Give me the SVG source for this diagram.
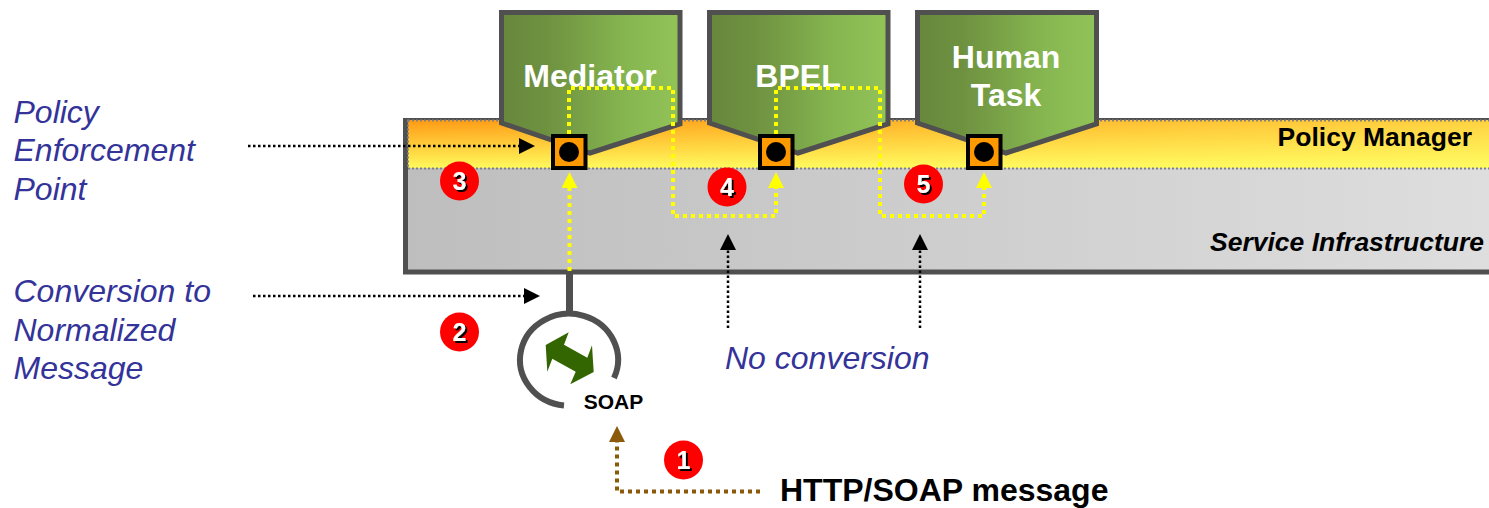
<svg xmlns="http://www.w3.org/2000/svg" width="1489" height="508" viewBox="0 0 1489 508">
<style>
text{font-family:"Liberation Sans",Arial,sans-serif}
.note{font-size:32px;font-style:italic;fill:#333399}
.svc{stroke:#505050;stroke-width:5;fill:url(#green);stroke-linejoin:miter}
.svcT{font-size:32px;font-weight:bold;fill:#fff;text-anchor:middle}
.pep{fill:#FF9900;stroke:#000;stroke-width:4}
.badge{fill:#ff0000}
.num{font-size:25px;font-weight:bold;fill:#fff;text-anchor:middle;filter:url(#sh)}
.y{fill:none;stroke:#FFFF00;stroke-width:4;stroke-dasharray:4 4;marker-end:url(#ay)}
.k{fill:none;stroke:#000;stroke-width:2.500;stroke-dasharray:2.500 2.500;marker-end:url(#ak)}
.b{fill:none;stroke:#8B5A0B;stroke-width:4;stroke-dasharray:4 4;marker-end:url(#ab)}
</style>
<defs>
<linearGradient id="green" x1="0" x2="1" y1="0" y2="0"><stop offset="0" stop-color="#68883C"/><stop offset="0.25" stop-color="#6E9140"/><stop offset="0.7" stop-color="#86B650"/><stop offset="1" stop-color="#92C358"/></linearGradient>
<linearGradient id="grey" gradientUnits="userSpaceOnUse" x1="408" x2="1489" y1="0" y2="0"><stop offset="0" stop-color="#BEBEBE"/><stop offset="1" stop-color="#DEDEDE"/></linearGradient>
<linearGradient id="org" x1="0" x2="0" y1="0" y2="1"><stop offset="0" stop-color="#FF9A14"/><stop offset="1" stop-color="#FFF95C"/></linearGradient>
<linearGradient id="orgR" gradientUnits="userSpaceOnUse" x1="408" x2="1489" y1="0" y2="0"><stop offset="0" stop-color="#FFFF66" stop-opacity="0"/><stop offset="1" stop-color="#FFFF66" stop-opacity="0.55"/></linearGradient>
<filter id="sh" x="-30%" y="-30%" width="170%" height="170%"><feDropShadow dx="2" dy="2" stdDeviation="0.3" flood-color="#000" flood-opacity="1"/></filter>
<marker id="ay" markerUnits="userSpaceOnUse" markerWidth="16" markerHeight="16" refX="1" refY="8" orient="auto"><path d="M0 0L16 8L0 16Z" fill="#FFFF00"/></marker>
<marker id="ak" markerUnits="userSpaceOnUse" markerWidth="16" markerHeight="16" refX="1" refY="8" orient="auto"><path d="M0 0L16 8L0 16Z" fill="#000"/></marker>
<marker id="ab" markerUnits="userSpaceOnUse" markerWidth="16" markerHeight="16" refX="1" refY="8" orient="auto"><path d="M0 0L16 8L0 16Z" fill="#8B5A0B"/></marker>
</defs>
<rect width="1489" height="508" fill="#fff"/>
<g id="service-infrastructure">
<rect x="405.500" y="120.500" width="1090" height="151.500" fill="url(#grey)" stroke="#505050" stroke-width="5"/>
<text x="1484" y="251" text-anchor="end" font-size="26.500" font-weight="bold" font-style="italic">Service Infrastructure</text>
</g>
<g id="policy-manager">
<rect x="408" y="120" width="1085" height="48" fill="url(#org)"/>
<rect x="408" y="120" width="1085" height="48" fill="url(#orgR)"/>
<rect x="408" y="120.500" width="1085" height="48" fill="none" stroke="#808080" stroke-width="2" stroke-dasharray="2 2"/>
<text x="1472" y="146" text-anchor="end" font-size="26.500" font-weight="bold">Policy Manager</text>
</g>
<g id="mediator">
<path class="svc" d="M501.500 12.500H680V124L590 153L501.500 123Z"/>
<text class="svcT" x="590" y="87">Mediator</text>
</g>
<g id="bpel">
<path class="svc" d="M709.500 12.500H888V124L798 153L709.500 123Z"/>
<text class="svcT" x="798" y="87">BPEL</text>
</g>
<g id="human-task">
<path class="svc" d="M917.500 12.500H1096.500V124L1006 153L917.500 123Z"/>
<text class="svcT" x="1006" y="68">Human</text>
<text class="svcT" x="1006" y="106">Task</text>
</g>
<g id="connectors">
<path class="y" d="M569.500 271V187"/>
<path class="y" d="M569 134V88H673V216H776V187"/>
<path class="y" d="M776 134V88H880V216H984V187"/>
<path class="k" d="M248 146H520"/>
<path class="k" d="M253 296H525"/>
<path class="k" d="M728 328V249"/>
<path class="k" d="M920 328V249"/>
<path class="b" d="M760 491.500H617V441"/>
</g>
<g id="pep-mediator"><rect class="pep" x="553" y="136" width="32.500" height="32"/><circle cx="569" cy="152" r="10"/></g>
<g id="pep-bpel"><rect class="pep" x="760" y="136" width="32.500" height="32"/><circle cx="776" cy="152" r="10"/></g>
<g id="pep-human"><rect class="pep" x="968" y="136" width="32.500" height="32"/><circle cx="984" cy="152" r="10"/></g>
<g id="soap-binding">
<path d="M569.500 274V312" stroke="#505050" stroke-width="7" fill="none"/>
<path d="M614 378A49 46 0 1 0 564 405.500" stroke="#505050" stroke-width="6" fill="none"/>
<path d="M545.700 345L568.700 332.300L564 344.700L587.300 357.700L592 345.300L593.700 372L570.300 384.300L575.700 371.700L552.300 358.700L547.300 371.700Z" fill="#336600"/>
<text x="613.500" y="409" text-anchor="middle" font-size="21" font-weight="bold">SOAP</text>
</g>
<g id="badge-1"><circle class="badge" cx="683.500" cy="460" r="19.500"/><text class="num" x="683.500" y="469">1</text></g>
<g id="badge-2"><circle class="badge" cx="459.500" cy="332" r="19.500"/><text class="num" x="459.500" y="341">2</text></g>
<g id="badge-3"><circle class="badge" cx="459.500" cy="181" r="19.500"/><text class="num" x="459.500" y="190">3</text></g>
<g id="badge-4"><circle class="badge" cx="727" cy="187" r="19.500"/><text class="num" x="727" y="196">4</text></g>
<g id="badge-5"><circle class="badge" cx="923.500" cy="184" r="19.500"/><text class="num" x="923.500" y="193">5</text></g>
<g id="labels">
<text class="note" x="13.500" y="123">Policy</text>
<text class="note" x="13.500" y="161">Enforcement</text>
<text class="note" x="13.500" y="200">Point</text>
<text class="note" x="13.500" y="302">Conversion to</text>
<text class="note" x="13.500" y="341">Normalized</text>
<text class="note" x="13.500" y="379">Message</text>
<text class="note" x="725" y="369">No conversion</text>
<text x="780" y="501" font-size="32" font-weight="bold">HTTP/SOAP message</text>
</g>
</svg>
